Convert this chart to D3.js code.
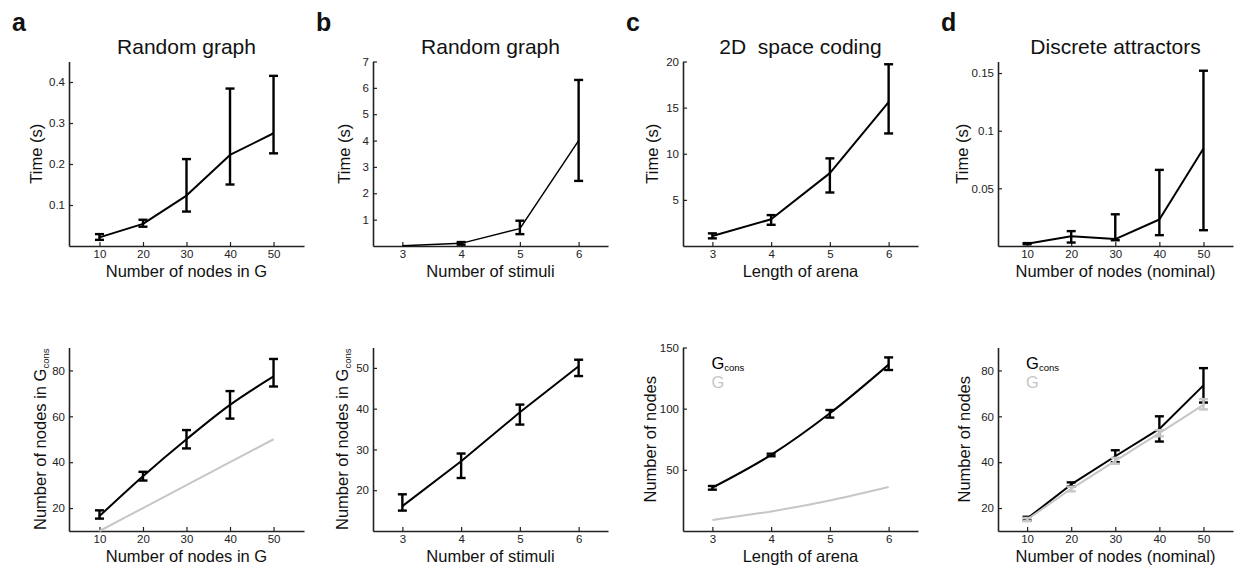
<!DOCTYPE html>
<html>
<head>
<meta charset="utf-8">
<script src="https://cdn.jsdelivr.net/npm/d3@7"></script>
<style>
  body { margin: 0; background: #fff; }
  text { font-family: "Liberation Sans", Arial, sans-serif; fill: #111; }
</style>
</head>
<body>
<div id="canvas"></div>
<script>
// x values
const nodesX = [10, 20, 30, 40, 50];
const stimuliX = [3, 4, 5, 6];
const arenaX = [3, 4, 5, 6];

// top row: run time (s)
const timeA = [0.021, 0.054, 0.123, 0.222, 0.275];
const timeALo = [0.015, 0.047, 0.084, 0.150, 0.226];
const timeAHi = [0.029, 0.064, 0.212, 0.384, 0.415];

const timeB = [0.005, 0.1, 0.66, 4.0];
const timeBLo = [0.005, 0.05, 0.45, 2.47];
const timeBHi = [0.005, 0.15, 0.96, 6.3];

const timeC = [1.08, 2.9, 7.9, 15.6];
const timeCLo = [0.83, 2.3, 5.8, 12.2];
const timeCHi = [1.37, 3.35, 9.5, 19.7];

const timeD = [0.002, 0.0085, 0.006, 0.023, 0.0846];
const timeDLo = [0.0015, 0.003, 0.005, 0.0094, 0.0137];
const timeDHi = [0.0025, 0.0129, 0.0275, 0.066, 0.152];

// bottom row: number of nodes
const consA = [16.5, 33.9, 50, 65, 77.4];
const consALo = [15.4, 32, 46, 59, 73];
const consAHi = [19, 35.8, 54, 71, 85];
const gA = [10, 20, 30, 40, 50];

const consB = [16.1, 27.1, 39.1, 50.4];
const consBLo = [15, 23, 36.1, 48];
const consBHi = [19, 29, 41, 52];

const consC = [35.4, 62.2, 96.2, 136];
const consCLo = [33.8, 61.1, 92.7, 131.6];
const consCHi = [36.8, 63.2, 98.9, 141.9];
const gC = [9, 16, 25, 36];

const consD = [15.4, 30.3, 42.6, 54.5, 73.5];
const consDLo = [14.6, 29.4, 40, 49, 66];
const consDHi = [16.2, 31.2, 45.2, 60, 81];
const gD = [15, 28.4, 40.6, 52.7, 65];
const gDLo = [14.3, 27.3, 39.3, 51.3, 63];
const gDHi = [15.7, 29.3, 41.9, 54, 67.5];

// tick labels
const yTicksA = ["0.1", "0.2", "0.3", "0.4"];
const yTicksB = ["1", "2", "3", "4", "5", "6", "7"];
const yTicksC = ["5", "10", "15", "20"];
const yTicksD = ["0.05", "0.1", "0.15"];
const yTicksA2 = ["20", "40", "60", "80"];
const yTicksB2 = ["20", "30", "40", "50"];
const yTicksC2 = ["50", "100", "150"];
const yTicksD2 = ["20", "40", "60", "80"];

const width = 1240;
const height = 568;
const GRAY = "#c6c6c6";

const svg = d3.select("#canvas").append("svg")
  .attr("width", width)
  .attr("height", height);

const colLeft = [69, 373, 683, 998];
const plotW = 235;
const rowTop = [61.5, 347.5];
const rowBottom = [246, 531];

const black = (y, lo, hi, w) => ({ y, lo, hi, color: "#000", width: w || 2 });
const gray = (y, lo, hi) => ({ y, lo, hi, color: GRAY, width: 2 });
const smooth = d3.curveCatmullRom.alpha(0.5);

const panels = [
  { col: 0, row: 0, letter: "a", title: "Random graph", x: nodesX, xDomain: [3, 57], yDomain: [0, 0.45],
    yTicks: yTicksA, xlabel: "Number of nodes in G", ylabel: "Time (s)", yoff: 27, curve: d3.curveLinear,
    series: [black(timeA, timeALo, timeAHi)] },
  { col: 1, row: 0, letter: "b", title: "Random graph", x: stimuliX, xDomain: [2.5, 6.5], yDomain: [0, 7],
    yTicks: yTicksB, xlabel: "Number of stimuli", ylabel: "Time (s)", yoff: 23, curve: d3.curveLinear,
    series: [black(timeB, timeBLo, timeBHi, 1.5)] },
  { col: 2, row: 0, letter: "c", title: "2D\u00a0 space coding", x: arenaX, xDomain: [2.5, 6.5], yDomain: [0, 20],
    yTicks: yTicksC, xlabel: "Length of arena", ylabel: "Time (s)", yoff: 25, curve: d3.curveLinear,
    series: [black(timeC, timeCLo, timeCHi)] },
  { col: 3, row: 0, letter: "d", title: "Discrete attractors", x: nodesX, xDomain: [3.4, 56.7], yDomain: [0, 0.16],
    yTicks: yTicksD, xlabel: "Number of nodes (nominal)", ylabel: "Time (s)", yoff: 30, curve: d3.curveLinear,
    series: [black(timeD, timeDLo, timeDHi)] },
  { col: 0, row: 1, x: nodesX, xDomain: [3, 57], yDomain: [10, 90],
    yTicks: yTicksA2, xlabel: "Number of nodes in G", ylabel: "Number of nodes in G", ysub: "cons", yoff: 23, curve: smooth,
    series: [gray(gA, gA, gA), black(consA, consALo, consAHi)] },
  { col: 1, row: 1, x: stimuliX, xDomain: [2.5, 6.5], yDomain: [10, 55],
    yTicks: yTicksB2, xlabel: "Number of stimuli", ylabel: "Number of nodes in G", ysub: "cons", yoff: 25, curve: d3.curveLinear,
    series: [black(consB, consBLo, consBHi)] },
  { col: 2, row: 1, x: arenaX, xDomain: [2.5, 6.5], yDomain: [0, 150],
    yTicks: yTicksC2, xlabel: "Length of arena", ylabel: "Number of nodes", yoff: 27, curve: smooth, legend: true,
    series: [gray(gC, gC, gC), black(consC, consCLo, consCHi)] },
  { col: 3, row: 1, x: nodesX, xDomain: [3.4, 56.7], yDomain: [10, 90],
    yTicks: yTicksD2, xlabel: "Number of nodes (nominal)", ylabel: "Number of nodes", yoff: 28, curve: d3.curveLinear, legend: true,
    series: [black(consD, consDLo, consDHi), gray(gD, gDLo, gDHi)] }
];

const render = (p) => {
  const left = colLeft[p.col];
  const top = rowTop[p.row];
  const inHeight = rowBottom[p.row] - top;

  const xScale = d3.scaleLinear().domain(p.xDomain).range([0, plotW]);
  const yScale = d3.scaleLinear().domain(p.yDomain).range([inHeight, 0]);

  const g = svg.append("g").attr("transform", `translate(${left},${top})`);

  const yAxis = g.append("g")
    .call(d3.axisLeft(yScale)
      .tickValues(p.yTicks.map(Number))
      .tickFormat((d, i) => p.yTicks[i])
      .tickSizeInner(-4).tickSizeOuter(0).tickPadding(4));
  const xAxis = g.append("g")
    .attr("transform", `translate(0,${inHeight})`)
    .call(d3.axisBottom(xScale)
      .tickValues(p.x)
      .tickFormat(d3.format("d"))
      .tickSizeInner(-4).tickSizeOuter(0).tickPadding(4));

  [xAxis, yAxis].forEach((ax) => {
    ax.select(".domain").attr("stroke", "#222").attr("stroke-width", 1.6);
    ax.selectAll(".tick line").attr("stroke", "#222").attr("stroke-width", 1.2);
    ax.selectAll(".tick text").attr("font-size", 11.5).style("fill", "#222")
      .attr("font-family", '"Liberation Sans", Arial, sans-serif');
  });

  const line = d3.line()
    .x((d) => xScale(d.x))
    .y((d) => yScale(d.y))
    .curve(p.curve);

  p.series.forEach((s) => {
    const pts = p.x.map((x, i) => ({ x, y: s.y[i], lo: s.lo[i], hi: s.hi[i] }));
    g.append("path")
      .datum(pts)
      .attr("fill", "none")
      .attr("stroke", s.color)
      .attr("stroke-width", s.width)
      .attr("stroke-linejoin", "round")
      .attr("d", line);

    const bars = g.selectAll(null)
      .data(pts.filter((d) => d.hi > d.lo))
      .enter().append("g")
      .attr("stroke", s.color)
      .attr("stroke-width", 2.4)
      .attr("fill", "none");
    bars.append("line")
      .attr("x1", (d) => xScale(d.x)).attr("x2", (d) => xScale(d.x))
      .attr("y1", (d) => yScale(d.lo)).attr("y2", (d) => yScale(d.hi));
    [(d) => d.lo, (d) => d.hi].forEach((v) => {
      bars.append("line")
        .attr("x1", (d) => xScale(d.x) - 4.5).attr("x2", (d) => xScale(d.x) + 4.5)
        .attr("y1", (d) => yScale(v(d))).attr("y2", (d) => yScale(v(d)));
    });
  });

  // axis labels
  g.append("text")
    .attr("x", plotW / 2)
    .attr("y", inHeight + 31)
    .attr("text-anchor", "middle")
    .attr("font-size", 16.5)
    .text(p.xlabel);

  const yl = g.append("text")
    .attr("transform", `translate(${-p.yoff},${inHeight / 2}) rotate(-90)`)
    .attr("text-anchor", "middle")
    .attr("font-size", 16.5)
    .text(p.ylabel);
  if (p.ysub) {
    yl.append("tspan").attr("font-size", 9.5).attr("dy", 3).text(p.ysub);
  }

  if (p.title) {
    g.append("text")
      .attr("x", plotW / 2)
      .attr("y", 54 - top)
      .attr("text-anchor", "middle")
      .attr("font-size", 21)
      .text(p.title);
    svg.append("text")
      .attr("x", left - 57)
      .attr("y", 30.5)
      .attr("font-size", 25)
      .attr("font-weight", "bold")
      .text(p.letter);
  }

  if (p.legend) {
    const lg = g.append("text")
      .attr("x", xScale(p.x[0]) - 1)
      .attr("y", 369 - top)
      .attr("font-size", 16.5)
      .style("fill", "#000")
      .text("G");
    lg.append("tspan").attr("font-size", 9.5).attr("dy", 2).text("cons");
    g.append("text")
      .attr("x", xScale(p.x[0]) - 1)
      .attr("y", 388 - top)
      .attr("font-size", 16.5)
      .style("fill", GRAY)
      .text("G");
  }
};

panels.forEach(render);
</script>
</body>
</html>
